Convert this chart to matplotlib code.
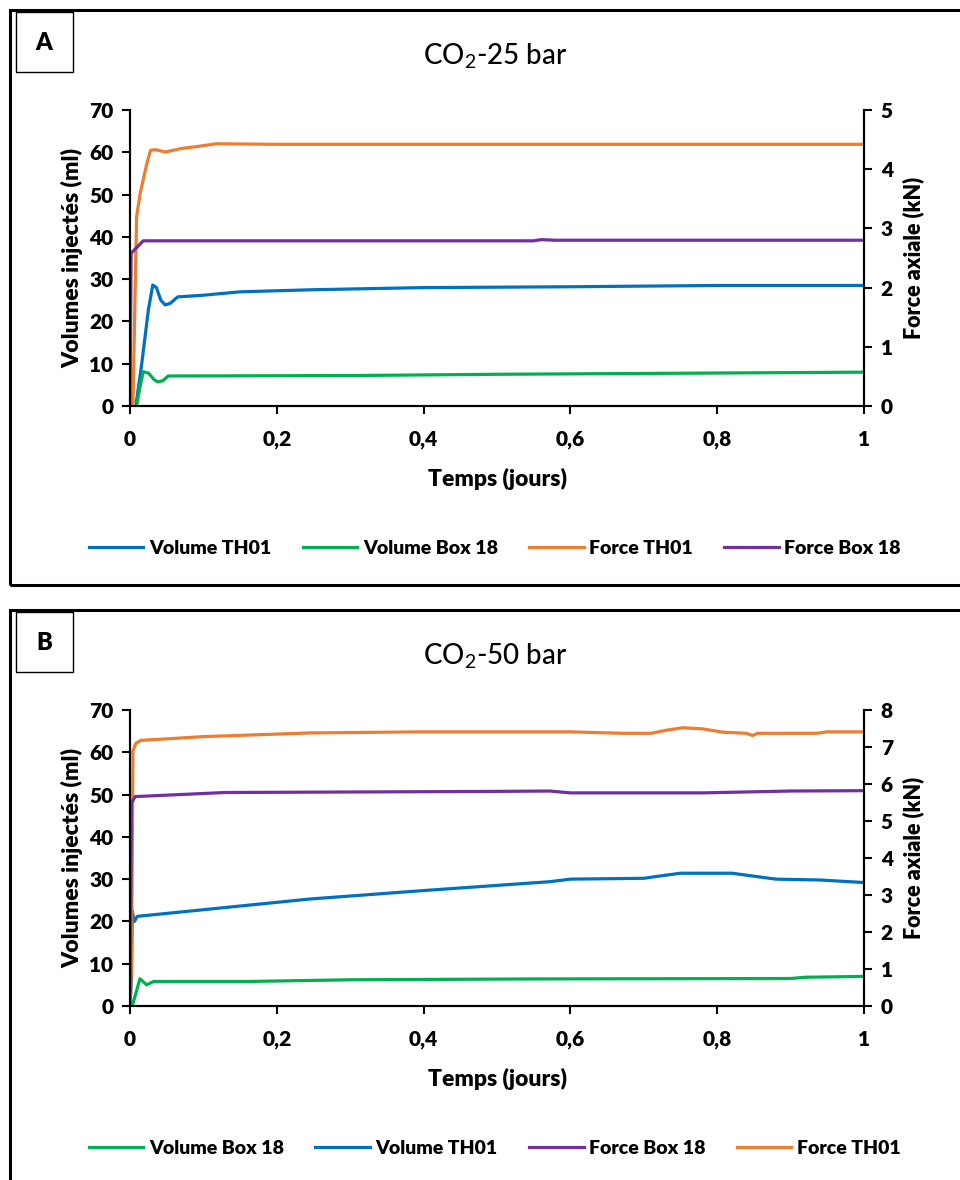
import matplotlib
matplotlib.use('Agg')
import matplotlib.pyplot as plt
from matplotlib.patches import Rectangle

plt.rcParams['font.family'] = ['Lato', 'DejaVu Sans']
plt.rcParams['mathtext.fontset'] = 'custom'
plt.rcParams['mathtext.rm'] = 'Lato'

# ---- panel A : CO2-25 bar ----
a_t_vol_th01 = [0, 0.008, 0.016, 0.025, 0.031, 0.036, 0.042, 0.048, 0.055, 0.065, 0.1, 0.15, 0.25, 0.4, 0.6, 0.8, 1.0]
a_vol_th01 = [0, 0, 10, 22.7, 28.6, 28.0, 25.0, 23.9, 24.3, 25.8, 26.2, 27.0, 27.5, 28.0, 28.2, 28.5, 28.5]
a_t_vol_box18 = [0, 0.009, 0.013, 0.018, 0.025, 0.033, 0.038, 0.045, 0.052, 0.3, 0.5, 0.8, 1.0]
a_vol_box18 = [0, 0, 4.0, 8.1, 7.8, 6.2, 5.7, 6.0, 7.1, 7.2, 7.5, 7.8, 8.0]
a_t_force_th01 = [0, 0.004, 0.009, 0.014, 0.018, 0.023, 0.028, 0.035, 0.048, 0.07, 0.09, 0.118, 0.2, 1.0]
a_force_th01 = [0, 0, 3.2, 3.6, 3.82, 4.1, 4.32, 4.33, 4.29, 4.35, 4.38, 4.43, 4.42, 4.42]
a_t_force_box18 = [0, 0.0015, 0.018, 0.55, 0.56, 0.58, 0.6, 1.0]
a_force_box18 = [0, 2.58, 2.79, 2.79, 2.81, 2.80, 2.80, 2.80]

# ---- panel B : CO2-50 bar ----
b_t_vol_th01 = [0, 0.002, 0.003, 0.006, 0.01, 0.245, 0.4, 0.572, 0.6, 0.7, 0.72, 0.75, 0.82, 0.85, 0.88, 0.94, 1.0]
b_vol_th01 = [0, 6.6, 22.4, 20.0, 21.2, 25.3, 27.3, 29.4, 30.0, 30.2, 30.7, 31.4, 31.4, 30.7, 30.0, 29.8, 29.2]
b_t_vol_box18 = [0, 0.003, 0.0136, 0.0227, 0.032, 0.16, 0.3, 0.55, 0.9, 0.92, 1.0]
b_vol_box18 = [0, 0, 6.45, 5.0, 5.8, 5.8, 6.2, 6.4, 6.5, 6.8, 7.0]
b_t_force_th01 = [0, 0.002, 0.004, 0.008, 0.015, 0.05, 0.1, 0.245, 0.4, 0.6, 0.67, 0.71, 0.73,
                  0.753, 0.78, 0.808, 0.84, 0.848, 0.855, 0.935, 0.95, 1.0]
b_force_th01 = [0, 1.0, 6.9, 7.1, 7.18, 7.22, 7.28, 7.38, 7.41, 7.41, 7.37, 7.37, 7.45,
                7.52, 7.49, 7.4, 7.37, 7.31, 7.37, 7.37, 7.41, 7.41]
b_t_force_box18 = [0, 0.002, 0.004, 0.007, 0.13, 0.5, 0.572, 0.6, 0.78, 0.9, 1.0]
b_force_box18 = [0, 5.5, 5.55, 5.66, 5.77, 5.8, 5.81, 5.76, 5.76, 5.81, 5.82]

xticks = [0, 0.2, 0.4, 0.6, 0.8, 1]
xticklabels = ['0', '0,2', '0,4', '0,6', '0,8', '1']

c_blue = '#0070C0'
c_green = '#00B050'
c_orange = '#ED7D31'
c_purple = '#7030A0'

W, H = 960, 1180
fig = plt.figure(figsize=(W / 100, H / 100), dpi=100)


def fx(px):
    return px / W


def fy(py):
    return 1 - py / H


def panel(top_px, letter, title, vol_series, force_series, force_max, legend_order):
    # outer frame and letter box
    fig.add_artist(Rectangle((fx(10), fy(top_px + 575)), fx(970) - fx(10), fy(top_px) - fy(top_px + 575),
                             transform=fig.transFigure, fill=False, lw=2.2, ec='black'))
    fig.add_artist(Rectangle((fx(16), fy(top_px + 62)), fx(73) - fx(16), fy(top_px + 2) - fy(top_px + 62),
                             transform=fig.transFigure, fill=False, lw=1.0, ec='black'))
    fig.text(fx(44), fy(top_px + 33), letter, fontsize=17, fontweight='heavy', ha='center', va='center')
    fig.text(fx(495), fy(top_px + 46), title, fontsize=20, fontweight='medium', ha='center', va='center')

    ax = fig.add_axes([fx(130), fy(top_px + 396), fx(864) - fx(130), fy(top_px + 100) - fy(top_px + 396)])
    ax2 = ax.twinx()
    handles = {}
    for t, v, c, lab in vol_series:
        handles[lab], = ax.plot(t, v, color=c, lw=2.3, label=lab)
    for t, v, c, lab in force_series:
        handles[lab], = ax2.plot(t, v, color=c, lw=2.3, label=lab)

    ax.set_xlim(0, 1)
    ax.set_ylim(0, 70)
    ax.set_yticks(range(0, 71, 10))
    ax2.set_ylim(0, force_max)
    ax2.set_yticks(range(0, force_max + 1))
    ax.set_xticks(xticks)
    ax.set_xticklabels(xticklabels)
    for a in (ax, ax2):
        a.spines['top'].set_visible(False)
        for s in a.spines.values():
            s.set_linewidth(1.5)
        a.tick_params(direction='out', length=6, width=1.5, labelsize=15, pad=6)
        for lbl in a.get_xticklabels() + a.get_yticklabels():
            lbl.set_fontweight('heavy')
    ax.tick_params(axis='x', pad=11)
    ax.set_xlabel('Temps (jours)', fontsize=16.5, fontweight='heavy', labelpad=14)
    ax.set_ylabel('Volumes injectés (ml)', fontsize=16.5, fontweight='heavy', labelpad=4)
    ax2.set_ylabel('Force axiale (kN)', fontsize=15.5, fontweight='heavy', labelpad=7)

    fig.legend([handles[k] for k in legend_order], legend_order, loc='center',
               bbox_to_anchor=(fx(495), fy(top_px + 538)), ncol=4, frameon=False,
               prop={'size': 14, 'weight': 'heavy'}, handlelength=2.8, handletextpad=0.3,
               columnspacing=1.6)


panel(10, 'A', 'CO$_2$-25 bar',
      [(a_t_vol_th01, a_vol_th01, c_blue, 'Volume TH01'),
       (a_t_vol_box18, a_vol_box18, c_green, 'Volume Box 18')],
      [(a_t_force_th01, a_force_th01, c_orange, 'Force TH01'),
       (a_t_force_box18, a_force_box18, c_purple, 'Force Box 18')],
      5, ['Volume TH01', 'Volume Box 18', 'Force TH01', 'Force Box 18'])

panel(610, 'B', 'CO$_2$-50 bar',
      [(b_t_vol_th01, b_vol_th01, c_blue, 'Volume TH01'),
       (b_t_vol_box18, b_vol_box18, c_green, 'Volume Box 18')],
      [(b_t_force_th01, b_force_th01, c_orange, 'Force TH01'),
       (b_t_force_box18, b_force_box18, c_purple, 'Force Box 18')],
      8, ['Volume Box 18', 'Volume TH01', 'Force Box 18', 'Force TH01'])

fig.savefig('out.png', dpi=100)
